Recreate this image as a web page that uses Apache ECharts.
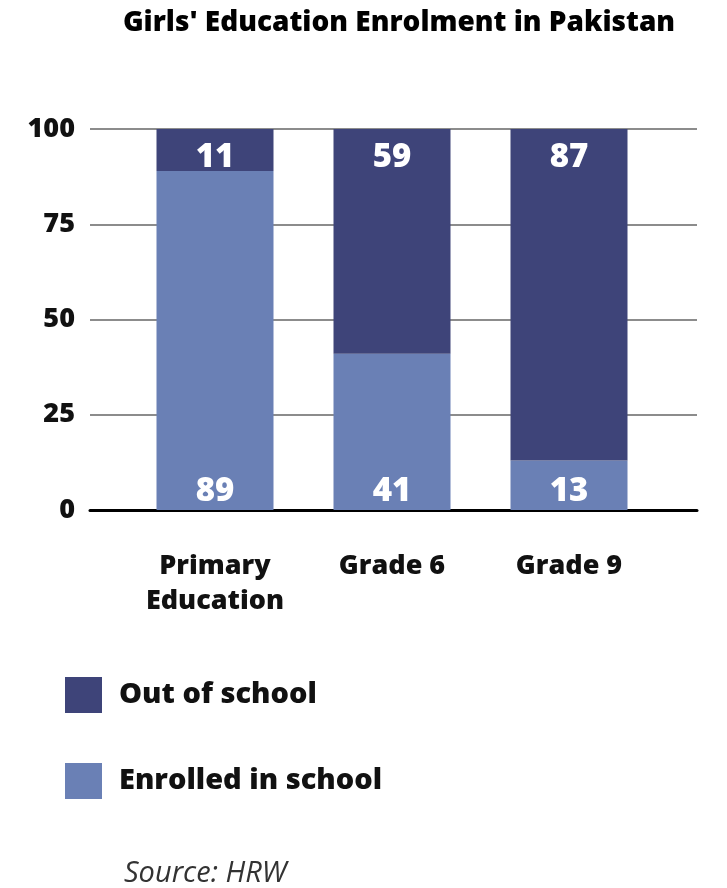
<!DOCTYPE html>
<html><head><meta charset="utf-8">
<script src="https://cdn.jsdelivr.net/npm/echarts@6/dist/echarts.min.js"></script>
<style>html,body{margin:0;padding:0;background:#fff}#c{width:727px;height:888px}</style>
</head><body><div id="c"></div>
<script>
const categories = ['Primary\nEducation', 'Grade 6', 'Grade 9'];
const outOfSchool = [11, 59, 87];
const enrolled = [89, 41, 13];
const yTicks = [0, 25, 50, 75, 100];
const seriesNames = ['Out of school', 'Enrolled in school'];
const colors = { dark: '#3e4479', light: '#6a80b5' };

const font = 'Open Sans';
const chart = echarts.init(document.getElementById('c'), null, { renderer: 'canvas' });
chart.setOption({
  animation: false,
  title: [{
    text: "Girls' Education Enrolment in Pakistan",
    left: 394, textAlign: 'center', top: 4,
    textStyle: { fontFamily: font, fontWeight: 800, fontSize: 28, color: '#000' }
  }, {
    text: 'Source: HRW', left: 119, top: 854,
    textStyle: { fontFamily: font, fontStyle: 'italic', fontWeight: 'normal', fontSize: 29, color: '#333' }
  }],
  legend: {
    orient: 'vertical', left: 65, top: 677, padding: 0, itemWidth: 37, itemHeight: 36, itemGap: 50,
    icon: 'rect', data: [seriesNames[0], seriesNames[1]],
    textStyle: { fontFamily: font, fontWeight: 800, fontSize: 29, color: '#111', padding: [20, 0, 0, 12] }
  },
  grid: [
    { left: 126.5, right: 69.5, top: 129, bottom: 378 },
    { left: 90, right: 30, top: 129, bottom: 378 }
  ],
  xAxis: [
    { type: 'category', gridIndex: 0, data: categories,
      axisLine: { show: false }, axisTick: { show: false },
      axisLabel: { interval: 0, margin: 39, fontFamily: font, fontWeight: 800, fontSize: 27, color: '#111', lineHeight: 35 } },
    { type: 'value', gridIndex: 1, min: 0, max: 1, show: true,
      axisLine: { show: true, onZero: false, lineStyle: { color: '#000', width: 3 } },
      axisTick: { show: false }, axisLabel: { show: false }, splitLine: { show: false } }
  ],
  yAxis: [
    { type: 'value', gridIndex: 0, min: 0, max: 100, interval: 25, show: false, splitLine: { show: false } },
    { type: 'value', gridIndex: 1, min: 0, max: 100, interval: 25,
      axisLine: { show: false }, axisTick: { show: false },
      axisLabel: { margin: 15, fontFamily: font, fontWeight: 800, fontSize: 27, color: '#111',
        formatter: v => yTicks.includes(v) ? String(v) : '' },
      splitLine: { show: true, lineStyle: { color: '#666', width: 1.5 } } }
  ],
  series: [
    { name: seriesNames[1], type: 'bar', stack: 's', xAxisIndex: 0, yAxisIndex: 0, data: enrolled,
      barWidth: 117, itemStyle: { color: colors.light }, z: 3,
      label: { show: true, position: 'insideBottom', distance: 2, color: '#fff', fontFamily: font, fontWeight: 800, fontSize: 33 } },
    { name: seriesNames[0], type: 'bar', stack: 's', xAxisIndex: 0, yAxisIndex: 0, data: outOfSchool,
      barWidth: 117, itemStyle: { color: colors.dark }, z: 3,
      label: { show: true, position: 'insideTop', distance: 12, color: '#fff', fontFamily: font, fontWeight: 800, fontSize: 33 } }
  ]
});
</script></body></html>
